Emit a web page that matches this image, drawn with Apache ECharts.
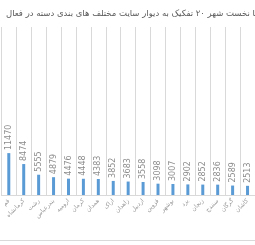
<!DOCTYPE html>
<html><head><meta charset="utf-8">
<script src="https://cdn.jsdelivr.net/npm/echarts@6/dist/echarts.min.js"></script>
<style>html,body{margin:0;padding:0;background:#fff;overflow:hidden}
#c{width:255px;height:240px;border-bottom:1px solid #d9d9d9}</style>
</head><body><div id="c"></div>
<script>
const titleWords = ['فعال','در','دسته','بندی','های','مختلف','سایت','دیوار','به','تفکیک','۲۰','شهر','نخست','با'];
const cities = ['قم','کرمانشاه','رشت','بندرعباس','ارومیه','کرمان','همدان','اراک','زاهدان','اردبیل','قزوین','بوشهر','یزد','زنجان','سنندج','گرگان','کاشان'];
const adCounts = [11470,8474,5555,4879,4476,4448,4383,3852,3683,3558,3098,3007,2902,2852,2836,2589,2513];

const font = 'DejaVu Sans';
// the reference lays the Persian words out left-to-right; the canvas draws a
// Persian run right-to-left, so the words are passed in reverse order
const titleShown = titleWords.slice().reverse().join(' ');
const chart = echarts.init(document.getElementById('c'));
chart.setOption({
  animation: false,
  title: {
    text: titleShown,
    left: 1, top: 4,
    textStyle: {fontFamily: font, fontSize: 8.5, fontWeight: 'normal', color: '#595959'}
  },
  grid: {left: -3.3, right: -5.7, top: 27, bottom: 45, containLabel: false},
  xAxis: {
    type: 'category', data: cities, boundaryGap: true,
    axisLine: {lineStyle: {color: '#d9d9d9'}},
    axisTick: {show: false},
    splitLine: {show: true, lineStyle: {color: '#d9d9d9', width: 1}},
    axisLabel: {interval: 0, rotate: 45, fontSize: 6, color: '#999999', fontFamily: font, margin: 5}
  },
  yAxis: {type: 'value', min: 0, max: 46000, show: false, splitLine: {show: false}},
  series: [{
    type: 'bar', data: adCounts, barWidth: 3,
    itemStyle: {color: '#5b9bd5'},
    label: {show: true, position: 'top', rotate: 90, align: 'left', verticalAlign: 'middle',
      distance: 3, fontSize: 8, color: '#8c8c8c', fontFamily: font}
  }]
});
</script></body></html>
